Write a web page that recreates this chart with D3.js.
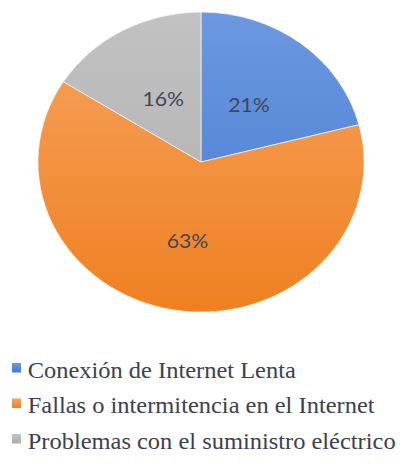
<!DOCTYPE html>
<html>
<head>
<meta charset="utf-8">
<script src="https://cdn.jsdelivr.net/npm/d3@7"></script>
<style>
	html, body { margin: 0; padding: 0; background: #fff; }
	svg { display: block; }
</style>
</head>
<body>
<div id="chart"></div>
<script>
var categories = ['Conexión de Internet Lenta', 'Fallas o intermitencia en el Internet', 'Problemas con el suministro eléctrico'];
var values = [21, 63, 16];
var labels = ['21%', '63%', '16%'];
var colorsTop = ['#6b98e0', '#f7a35f', '#c2c2c2'];
var colorsBottom = ['#4679cf', '#ef8021', '#acacac'];

var width = 401, height = 471;
var stretchX = 1.087; // the picture is slightly wider than tall
var radius = 150;
var cx = 201, cy = 162;

var svg = d3.select('#chart').append('svg')
	.attr('width', width)
	.attr('height', height);

var defs = svg.append('defs');
categories.forEach(function(c, i) {
	var g = defs.append('linearGradient')
		.attr('id', 'grad' + i)
		.attr('gradientUnits', 'userSpaceOnUse')
		.attr('x1', 0).attr('y1', -radius)
		.attr('x2', 0).attr('y2', radius);
	g.append('stop').attr('offset', '0%').attr('stop-color', colorsTop[i]);
	g.append('stop').attr('offset', '100%').attr('stop-color', colorsBottom[i]);
	var lg = defs.append('linearGradient')
		.attr('id', 'lgrad' + i)
		.attr('x1', 0).attr('y1', 0).attr('x2', 0).attr('y2', 1);
	lg.append('stop').attr('offset', '0%').attr('stop-color', colorsTop[i]);
	lg.append('stop').attr('offset', '100%').attr('stop-color', colorsBottom[i]);
});

var pie = d3.pie().sort(null).value(function(d) { return d; });
var arcs = pie(values);
var arc = d3.arc().innerRadius(0).outerRadius(radius);
var labelArc = d3.arc().innerRadius(radius * 0.48).outerRadius(radius * 0.48);

var group = svg.append('g')
	.attr('transform', 'translate(' + cx + ',' + cy + ') scale(' + stretchX + ',1)');

group.selectAll('path')
	.data(arcs)
	.join('path')
		.attr('d', arc)
		.attr('fill', function(d, i) { return 'url(#grad' + i + ')'; })
		.attr('stroke', '#fff')
		.attr('stroke-width', 0.6);

group.selectAll('text')
	.data(arcs)
	.join('text')
		.attr('transform', function(d, i) {
			var c = labelArc.centroid(d);
			if (i === 1) c = d3.arc().innerRadius(radius * 0.53).outerRadius(radius * 0.53).centroid(d);
			return 'translate(' + c[0] + ',' + c[1] + ')';
		})
		.attr('text-anchor', 'middle')
		.attr('dy', '0.36em')
		.attr('font-family', 'Lato, "Open Sans", sans-serif')
		.attr('font-size', '19.5px')
		.attr('fill', '#3f4658')
		.text(function(d, i) { return labels[i]; });

var legend = svg.append('g')
	.attr('transform', 'scale(' + stretchX + ',1)');

var rows = legend.selectAll('g')
	.data(categories)
	.join('g')
		.attr('transform', function(d, i) { return 'translate(0,' + (377.5 + i * 35.5) + ')'; });

rows.append('rect')
	.attr('x', 11)
	.attr('y', -14.5)
	.attr('width', 8.3)
	.attr('height', 9.5)
	.attr('fill', function(d, i) { return 'url(#lgrad' + i + ')'; });

rows.append('text')
	.attr('x', 25.5)
	.attr('y', 0)
	.attr('font-family', '"Liberation Serif", "Times New Roman", serif')
	.attr('font-size', '22.5px')
	.attr('fill', '#3b4150')
	.text(function(d) { return d; });
</script>
</body>
</html>
